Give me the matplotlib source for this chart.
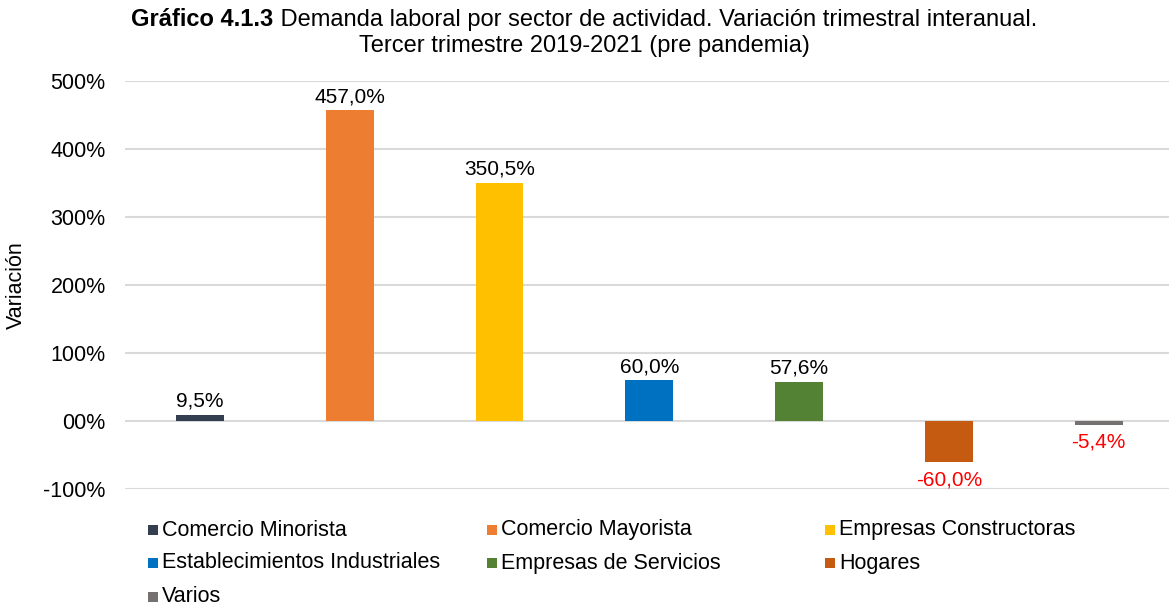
import numpy as np
import matplotlib
matplotlib.use('Agg')
import matplotlib.pyplot as plt
from matplotlib.patches import Rectangle

plt.rcParams['font.family'] = ['Liberation Sans', 'DejaVu Sans']

# Data
sectors = ['Comercio Minorista', 'Comercio Mayorista', 'Empresas Constructoras',
           'Establecimientos Industriales', 'Empresas de Servicios', 'Hogares', 'Varios']
values = [9.5, 457.0, 350.5, 60.0, 57.6, -60.0, -5.4]
colors = ['#333F50', '#ED7D31', '#FFC000', '#0070C0', '#548235', '#C55A11', '#767171']
y_ticks = [-100, 0, 100, 200, 300, 400, 500]
y_tick_labels = ['-100%', '00%', '100%', '200%', '300%', '400%', '500%']

W, H = 1169, 610
fig = plt.figure(figsize=(W / 100, H / 100), dpi=100)
ax = fig.add_axes([0.107, 0.1984, 0.893, 0.6688])

x = np.arange(len(sectors))
bars = ax.bar(x, values, width=0.32, color=colors, zorder=3)

# Value labels: positive above in black, negative below in red
for xi, v in zip(x, values):
    txt = f"{v:.1f}%".replace('.', ',')
    if v >= 0:
        ax.annotate(txt, (xi, v), xytext=(0, 3), textcoords='offset points',
                    ha='center', va='bottom', fontsize=15, color='black')
    else:
        ax.annotate(txt, (xi, v), xytext=(0, -6), textcoords='offset points',
                    ha='center', va='top', fontsize=15, color='#FF0000')

ax.set_xlim(-0.5, 6.47)
ax.set_ylim(-100, 500)
ax.set_yticks(y_ticks)
ax.set_yticklabels(y_tick_labels, fontsize=15.5)
ax.set_xticks([])
ax.tick_params(axis='y', length=0, pad=14)
ax.grid(axis='y', color='#D9D9D9', linewidth=1.5, zorder=0)
for s in ax.spines.values():
    s.set_visible(False)
ax.set_ylabel('Variación', fontsize=15.5, labelpad=12)

# Legend laid out row by row in three equal columns
col_x = [148, 487, 825]
row_y = [530, 563, 597]
sq = 10
for i, (name, c) in enumerate(zip(sectors, colors)):
    r, k = divmod(i, 3)
    fig.patches.append(Rectangle(((col_x[k]) / W, (H - row_y[r] - sq / 2) / H),
                                 sq / W, sq / H, transform=fig.transFigure,
                                 facecolor=c, edgecolor='none'))
    fig.text((col_x[k] + sq + 4) / W, 1 - row_y[r] / H, name, fontsize=15.5,
             ha='left', va='center')

# Title: bold prefix + regular text, centered
fig.canvas.draw()
renderer = fig.canvas.get_renderer()
t1 = fig.text(0, 0, 'Gráfico 4.1.3', fontsize=17, fontweight='bold', va='center')
t2 = fig.text(0, 0, ' Demanda laboral por sector de actividad. Variación trimestral interanual.',
              fontsize=17, va='center')
w1 = t1.get_window_extent(renderer).width / fig.bbox.width
w2 = t2.get_window_extent(renderer).width / fig.bbox.width
xc = 584 / W
x0 = xc - (w1 + w2) / 2
ty = 1 - 20 / H
t1.set_position((x0, ty))
t2.set_position((x0 + w1, ty))
fig.text(xc, 1 - 46 / H, 'Tercer trimestre 2019-2021 (pre pandemia)',
         fontsize=17, ha='center', va='center')

fig.savefig('out.png', dpi=100)
